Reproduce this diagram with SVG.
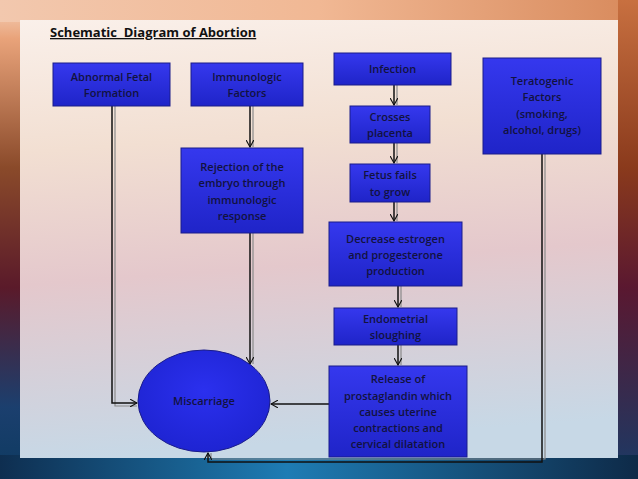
<svg xmlns="http://www.w3.org/2000/svg" width="638" height="479" viewBox="0 0 638 479">
<defs>
<linearGradient id="bgv" x1="0" y1="0" x2="0" y2="1">
<stop offset="0" stop-color="#f6d7c2"/><stop offset="0.08" stop-color="#e9a37a"/><stop offset="0.35" stop-color="#8a4a2a"/><stop offset="0.6" stop-color="#5a1a2a"/><stop offset="0.85" stop-color="#1b3f6e"/><stop offset="1" stop-color="#0d3a60"/>
</linearGradient>
<linearGradient id="bgb" x1="0" y1="0" x2="1" y2="0">
<stop offset="0" stop-color="#0e2e50"/><stop offset="0.45" stop-color="#1e7cb4"/><stop offset="1" stop-color="#0e2a48"/>
</linearGradient>
<linearGradient id="bgt" x1="0" y1="0" x2="1" y2="0">
<stop offset="0" stop-color="#f2c8ae"/><stop offset="0.5" stop-color="#f1b894"/><stop offset="1" stop-color="#d88a5c"/>
</linearGradient>
<linearGradient id="bgr" x1="0" y1="0" x2="0" y2="1">
<stop offset="0" stop-color="#c87040"/><stop offset="0.35" stop-color="#8a3a1c"/><stop offset="0.6" stop-color="#5a1830"/><stop offset="1" stop-color="#1a3a66"/>
</linearGradient>
<linearGradient id="panel" x1="0" y1="0" x2="0.1" y2="1">
<stop offset="0" stop-color="#faf0ea"/><stop offset="0.3" stop-color="#f2dfd2"/><stop offset="0.6" stop-color="#e4c8cc"/><stop offset="1" stop-color="#c7d8e6"/>
</linearGradient>
<linearGradient id="box" x1="0" y1="0" x2="0" y2="1">
<stop offset="0" stop-color="#3538ee"/><stop offset="1" stop-color="#1f24c8"/>
</linearGradient>
<radialGradient id="ell" cx="0.5" cy="0.4" r="0.6">
<stop offset="0" stop-color="#2b30ee"/><stop offset="1" stop-color="#1e24d2"/>
</radialGradient>
<marker id="arr" viewBox="0 0 10 10" refX="9" refY="5" markerWidth="8" markerHeight="8" orient="auto" markerUnits="userSpaceOnUse">
<path d="M0,0 L9,5 L0,10" fill="none" stroke="#111" stroke-width="1.4"/>
</marker>
</defs>
<style>
.bx{fill:url(#box);stroke:#1a1c8a;stroke-width:1}
.t{font-family:"Open Sans","Liberation Sans",sans-serif;font-size:11px;font-weight:600;fill:#12123f;text-anchor:middle}
.ln{fill:none;stroke:#111;stroke-width:1.5}
.sh{fill:none;stroke:#8a8a8a;stroke-width:1.2}
</style>
<rect x="0" y="0" width="638" height="479" fill="url(#bgv)"/>
<rect x="0" y="0" width="638" height="22" fill="url(#bgt)"/>
<rect x="618" y="0" width="20" height="479" fill="url(#bgr)"/>
<rect x="0" y="455" width="638" height="24" fill="url(#bgb)"/>
<rect x="20" y="20" width="598" height="438" fill="url(#panel)"/>
<text x="50" y="37" font-family="'Open Sans','Liberation Sans',sans-serif" font-size="13" font-weight="bold" fill="#111" text-decoration="underline" style="white-space:pre">Schematic  Diagram of Abortion</text>
<g id="connectors">
<path class="sh" d="M115,106 V406 H137"/>
<path class="ln" d="M112,106 V403 H137" marker-end="url(#arr)"/>
<path class="sh" d="M253,106 V147"/>
<path class="ln" d="M250,106 V147" marker-end="url(#arr)"/>
<path class="sh" d="M253,233 V364"/>
<path class="ln" d="M250,233 V364" marker-end="url(#arr)"/>
<path class="sh" d="M397,85 V105"/>
<path class="ln" d="M394,85 V105" marker-end="url(#arr)"/>
<path class="sh" d="M397,143 V163"/>
<path class="ln" d="M394,143 V163" marker-end="url(#arr)"/>
<path class="sh" d="M397,202 V221"/>
<path class="ln" d="M394,202 V221" marker-end="url(#arr)"/>
<path class="sh" d="M401,286 V307"/>
<path class="ln" d="M398,286 V307" marker-end="url(#arr)"/>
<path class="sh" d="M401,345 V365"/>
<path class="ln" d="M398,345 V365" marker-end="url(#arr)"/>
<path class="ln" d="M329,404 H271" marker-end="url(#arr)"/>
<path class="sh" d="M545,154 V459 H211 V453"/>
<path class="ln" d="M542,154 V462 H208 V453" marker-end="url(#arr)"/>
</g>
<g id="abnormal"><rect class="bx" x="53" y="63" width="117" height="43"/><text class="t" x="111.5" y="81">Abnormal Fetal</text><text class="t" x="111.5" y="97">Formation</text></g>
<g id="immunologic"><rect class="bx" x="191" y="63" width="112" height="43"/><text class="t" x="247" y="81">Immunologic</text><text class="t" x="247" y="97">Factors</text></g>
<g id="rejection"><rect class="bx" x="181" y="148" width="122" height="85"/><text class="t" x="242" y="171">Rejection of the</text><text class="t" x="242" y="187">embryo through</text><text class="t" x="242" y="204">immunologic</text><text class="t" x="242" y="220">response</text></g>
<g id="infection"><rect class="bx" x="334" y="53" width="117" height="32"/><text class="t" x="392.5" y="73">Infection</text></g>
<g id="crosses"><rect class="bx" x="350" y="106" width="80" height="37"/><text class="t" x="390" y="121">Crosses</text><text class="t" x="390" y="137">placenta</text></g>
<g id="fetus"><rect class="bx" x="350" y="164" width="80" height="38"/><text class="t" x="390" y="179">Fetus fails</text><text class="t" x="390" y="196">to grow</text></g>
<g id="decrease"><rect class="bx" x="329" y="222" width="133" height="64"/><text class="t" x="395.5" y="243">Decrease estrogen</text><text class="t" x="395.5" y="259">and progesterone</text><text class="t" x="395.5" y="275">production</text></g>
<g id="endometrial"><rect class="bx" x="334" y="308" width="123" height="37"/><text class="t" x="395.5" y="323">Endometrial</text><text class="t" x="395.5" y="339">sloughing</text></g>
<g id="release"><rect class="bx" x="329" y="366" width="138" height="91"/><text class="t" x="398" y="383">Release of</text><text class="t" x="398" y="400">prostaglandin which</text><text class="t" x="398" y="416">causes uterine</text><text class="t" x="398" y="432">contractions and</text><text class="t" x="398" y="448">cervical dilatation</text></g>
<g id="teratogenic"><rect class="bx" x="483" y="58" width="118" height="96"/><text class="t" x="542" y="85">Teratogenic</text><text class="t" x="542" y="101">Factors</text><text class="t" x="542" y="118">(smoking,</text><text class="t" x="542" y="134">alcohol, drugs)</text></g>
<g id="miscarriage"><ellipse cx="204" cy="401" rx="66" ry="51" fill="url(#ell)" stroke="#1a1c8a" stroke-width="1"/><text class="t" x="204" y="405">Miscarriage</text></g>
</svg>
